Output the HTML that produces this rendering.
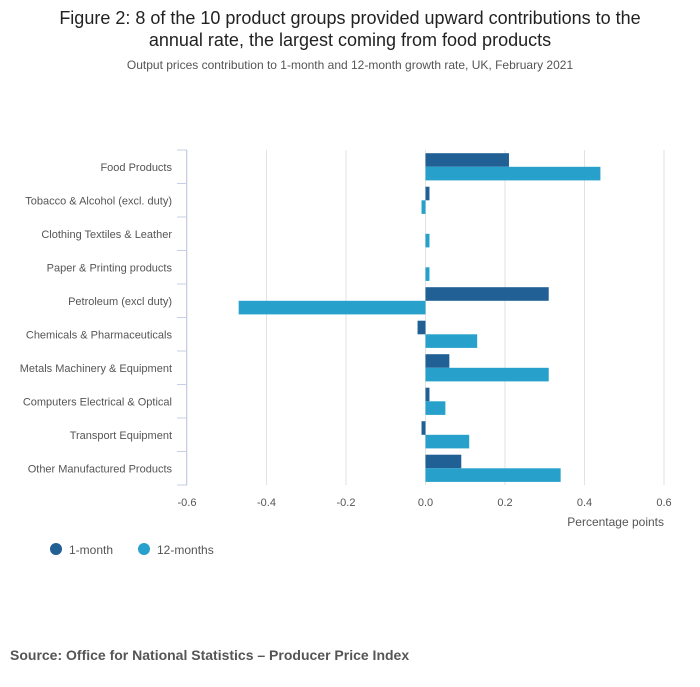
<!DOCTYPE html>
<html><head><meta charset="utf-8"><style>
body{margin:0;width:700px;height:682px;background:#fff;font-family:"Liberation Sans",sans-serif;overflow:hidden}
</style></head><body>
<svg width="700" height="682" xmlns="http://www.w3.org/2000/svg">
<text x="350" y="24" text-anchor="middle" font-size="18" fill="#222">Figure 2: 8 of the 10 product groups provided upward contributions to the</text>
<text x="350" y="46" text-anchor="middle" font-size="18" fill="#222">annual rate, the largest coming from food products</text>
<text x="350" y="69" text-anchor="middle" font-size="12" fill="#555">Output prices contribution to 1-month and 12-month growth rate, UK, February 2021</text>
<g id="grid"></g><g id="bars"></g><g id="axes"></g>
<text x="664" y="526" text-anchor="end" font-size="12" fill="#555">Percentage points</text>
<circle cx="56" cy="549" r="6" fill="#206095"/>
<text x="69" y="554" font-size="12" fill="#555">1-month</text>
<circle cx="144" cy="549" r="6" fill="#27a0cc"/>
<text x="157" y="554" font-size="12" fill="#555">12-months</text>
<text x="10" y="660" font-size="14" font-weight="bold" fill="#555">Source: Office for National Statistics – Producer Price Index</text>
</svg>
<script>
const categories=["Food Products","Tobacco & Alcohol (excl. duty)","Clothing Textiles & Leather","Paper & Printing products","Petroleum (excl duty)","Chemicals & Pharmaceuticals","Metals Machinery & Equipment","Computers Electrical & Optical","Transport Equipment","Other Manufactured Products"];
const oneMonth=[0.21,0.01,0,0,0.31,-0.02,0.06,0.01,-0.01,0.09];
const twelveMonths=[0.44,-0.01,0.01,0.01,-0.47,0.13,0.31,0.05,0.11,0.34];
const ticks=[-0.6,-0.4,-0.2,0,0.2,0.4,0.6];
const tickLabels=["-0.6","-0.4","-0.2","0.0","0.2","0.4","0.6"];
const NS="http://www.w3.org/2000/svg";
const x0=187,x1=664,plotTop=150,rowH=33.5;
const xs=v=>x0+(v+0.6)/1.2*(x1-x0);
function mk(t,a,p){const e=document.createElementNS(NS,t);for(const k in a)e.setAttribute(k,a[k]);document.getElementById(p).appendChild(e);return e;}
ticks.forEach((t,i)=>{
 const l=mk('line',{x1:xs(t),x2:xs(t),y1:plotTop,y2:plotTop+rowH*10,stroke:'#e2e2e2'},'grid');
 
 
 const tx=mk('text',{x:xs(t),y:506,'text-anchor':'middle','font-size':11,fill:'#555'},'axes');
 tx.textContent=tickLabels[i];
 
 
});
const ax=mk('line',{x1:x0-0.5,x2:x0-0.5,y1:plotTop,y2:plotTop+rowH*10,stroke:'#c5d0e6'},'axes');


for(let i=0;i<=10;i++){const tk=mk('line',{x1:177,x2:x0,y1:plotTop+i*rowH,y2:plotTop+i*rowH,stroke:'#c5d0e6'},'axes');
 
 }
categories.forEach((c,i)=>{
 const y=plotTop+i*rowH;
 const t=mk('text',{x:172,y:y+rowH/2+4,'text-anchor':'end','font-size':11,fill:'#555'},'axes');
 t.textContent=c;
 
 
 const a=oneMonth[i],b=twelveMonths[i];
 const r1=mk('rect',{x:Math.min(xs(0),xs(a)),y:y+3.2,width:Math.abs(xs(a)-xs(0)),height:13.6,fill:'#206095'},'bars');
 
 
 const r2=mk('rect',{x:Math.min(xs(0),xs(b)),y:y+16.8,width:Math.abs(xs(b)-xs(0)),height:13.6,fill:'#27a0cc'},'bars');
 
 
});
</script>
</body></html>
